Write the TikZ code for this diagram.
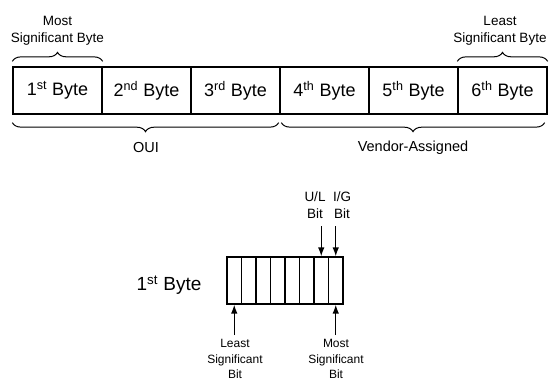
\documentclass[tikz,border=0pt]{standalone}
\usepackage{fontspec}
\setmainfont{Liberation Sans}
\usetikzlibrary{decorations.pathreplacing,arrows.meta}
\begin{document}
\begin{tikzpicture}[x=1pt,y=-1pt,
  byte/.style={draw,line width=1.3pt,minimum width=89pt,minimum height=47pt,inner sep=0pt,font=\fontsize{18}{20}\selectfont},
  bitcell/.style={draw,line width=1.2pt,minimum width=14.5pt,minimum height=47pt,inner sep=0pt},
  lbl/.style={font=\fontsize{13.5}{17}\selectfont,align=center,inner sep=0pt},
  slbl/.style={font=\fontsize{12}{15.5}\selectfont,align=center,inner sep=0pt},
  brc/.style={decorate,line width=1pt},
  arr/.style={-{Latex[length=9pt,width=6.5pt]},line width=1.3pt}]
\useasboundingbox (0,0) rectangle (551,381);
% top row of bytes
\node[byte] (b1) at (57.5,90.5) {1\textsuperscript{st} Byte};
\node[byte] (b2) at (146.5,90.5) {2\textsuperscript{nd} Byte};
\node[byte] (b3) at (235.5,90.5) {3\textsuperscript{rd} Byte};
\node[byte] (b4) at (324.5,90.5) {4\textsuperscript{th} Byte};
\node[byte] (b5) at (413.5,90.5) {5\textsuperscript{th} Byte};
\node[byte] (b6) at (502.5,90.5) {6\textsuperscript{th} Byte};
% top braces
\draw[brc,decoration={brace,amplitude=9pt}] ([yshift=5pt]b1.north west) -- ([yshift=5pt]b1.north east);
\draw[brc,decoration={brace,amplitude=9pt}] ([yshift=5pt]b6.north west) -- ([yshift=5pt]b6.north east);
\node[lbl] (msb) at (57.5,31) {Most\\Significant Byte};
\node[lbl] (lsbyte) at (500,31) {Least\\Significant Byte};
% bottom braces
\draw[brc,decoration={brace,amplitude=9pt}] ([xshift=-2pt,yshift=-8pt]b3.south east) -- ([yshift=-8pt]b1.south west);
\draw[brc,decoration={brace,amplitude=9pt}] ([xshift=-3pt,yshift=-8pt]b6.south east) -- ([xshift=2pt,yshift=-8pt]b4.south west);
\node[lbl,font=\fontsize{14.5}{17}\selectfont] (oui) at (146,148) {OUI};
\node[lbl,font=\fontsize{14.5}{17}\selectfont] (vend) at (413,148) {Vendor-Assigned};
% bit cells
\foreach \i/\x in {1/234.25,2/248.75,3/263.25,4/277.75,5/292.25,6/306.75,7/321.25,8/335.75}
  \node[bitcell] (c\i) at (\x,280.5) {};
\node[inner sep=0pt,font=\fontsize{19}{21}\selectfont] (fb) at (169,285) {1\textsuperscript{st} Byte};
% U/L and I/G
\node[lbl] (ul) at (315,205) {U/L\\Bit};
\node[lbl] (ig) at (342,205) {I/G\\Bit};
\coordinate (ulS) at (321.25,226);
\coordinate (igS) at (335.75,226);
\draw[arr] (ulS) -- (c7.north);
\draw[arr] (igS) -- (c8.north);
% least / most significant bit
\node[slbl] (lsbit) at (235,359) {Least\\Significant\\Bit};
\node[slbl] (msbit) at (336,359) {Most\\Significant\\Bit};
\coordinate (lsS) at (234.25,335);
\coordinate (msS) at (335.75,335);
\draw[arr] (lsS) -- (c1.south);
\draw[arr] (msS) -- (c8.south);
\end{tikzpicture}
\end{document}
